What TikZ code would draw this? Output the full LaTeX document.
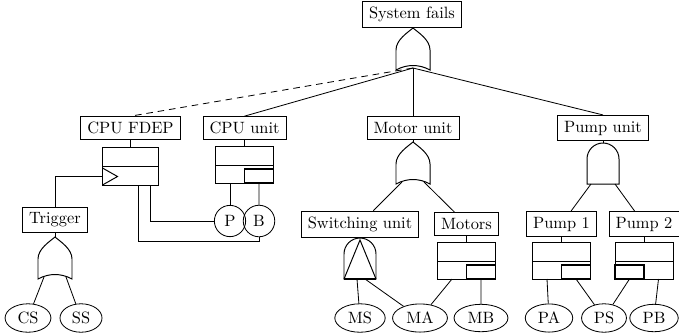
\documentclass[tikz,border=0pt]{standalone}
\usetikzlibrary{shapes.geometric}
\tikzset{
  conn/.style={line width=0.5pt},
  ev/.style={draw, line width=0.5pt, inner xsep=4pt, inner ysep=3.333pt},
  basic/.style={draw, ellipse, line width=0.5pt, inner xsep=3.5pt, inner ysep=2.5pt},
  rnd/.style={draw, circle, line width=0.5pt, inner sep=0.333em},
  gateline/.style={draw, line width=0.6pt, fill=white},
  orgate/.pic={
    \draw[gateline] (-17,42) -- (-17,22) .. controls (-17,12) and (-6,5) .. (0,0)
      .. controls (6,5) and (17,12) .. (17,22) -- (17,42)
      .. controls (6,36) and (-6,36) .. (-17,42) -- cycle;
    \coordinate (-top) at (0,0);
    \coordinate (-bot) at (0,40);
    \coordinate (-bl) at (-11,40);
    \coordinate (-br) at (11,40);
  },
  andgate/.pic={
    \draw[gateline] (-16,41) -- (-16,16) .. controls (-16,7.2) and (-8.8,0) .. (0,0)
      .. controls (8.8,0) and (16,7.2) .. (16,16) -- (16,41) -- cycle;
    \coordinate (-top) at (0,0);
    \coordinate (-bl) at (-12,41);
    \coordinate (-br) at (12,41);
  },
  pandgate/.pic={
    \draw[gateline] (-16,41) -- (-16,16) .. controls (-16,7.2) and (-8.8,0) .. (0,0)
      .. controls (8.8,0) and (16,7.2) .. (16,16) -- (16,41) -- cycle;
    \draw[line width=0.6pt] (-16,41) -- (0,2) -- (16,41);
    \draw[line width=1.1pt] (-16,41) -- (16,41);
    \coordinate (-top) at (0,0);
    \coordinate (-bl) at (-3,41);
    \coordinate (-br) at (5,41);
  },
  fdepgate/.pic={
    \draw[gateline] (-28,0) rectangle (28,38);
    \draw[line width=0.6pt] (-28,19) -- (28,19);
    \draw[line width=0.6pt] (-28,21) -- (-13,29.5) -- (-28,38);
    \coordinate (-top) at (0,0);
    \coordinate (-trig) at (-28,29.5);
    \coordinate (-o1) at (8,38);
    \coordinate (-o2) at (20,38);
  },
  sparer/.pic={
    \draw[gateline] (-29,0) rectangle (29,37);
    \draw[line width=0.6pt] (-29,19) -- (29,19);
    \draw[line width=0.75pt] (0,23) rectangle (29,37);
    \coordinate (-top) at (0,0);
    \coordinate (-bl) at (-14.5,37);
    \coordinate (-br) at (14.5,37);
  },
  sparel/.pic={
    \draw[gateline] (-29,0) rectangle (29,37);
    \draw[line width=0.6pt] (-29,19) -- (29,19);
    \draw[line width=0.75pt] (-29,23) rectangle (0,37);
    \coordinate (-top) at (0,0);
    \coordinate (-bl) at (-14.5,37);
    \coordinate (-br) at (14.5,37);
  },
}
\begin{document}
\begin{tikzpicture}[x=0.61pt,y=-0.61pt]
\useasboundingbox (0,0) rectangle (679,335);

% event boxes
\node[ev] (sys) at (412,14.5) {System fails};
\node[ev] (cpufdep) at (130.5,128) {CPU FDEP};
\node[ev] (cpuunit) at (244.5,128) {CPU unit};
\node[ev] (motorunit) at (413,128) {Motor unit};
\node[ev] (pumpunit) at (603,128) {Pump unit};
\node[ev] (trigger) at (55,220) {Trigger};
\node[ev] (swu) at (360,224) {Switching unit};
\node[ev] (motors) at (466.5,224) {Motors};
\node[ev] (pump1) at (561.5,224) {Pump 1};
\node[ev] (pump2) at (644,224) {Pump 2};

% gates
\pic (g0) at (413,28) {orgate};
\pic (tg) at (55,237) {orgate};
\pic (mg) at (413,142) {orgate};
\pic (pg) at (603,143) {andgate};
\pic (pa) at (360,238) {pandgate};
\pic (fd) at (130.5,147) {fdepgate};
\pic (cs0) at (244.5,146) {sparer};
\pic (ms0) at (466.5,242) {sparer};
\pic (ps1) at (561.5,242) {sparer};
\pic (ps2) at (644,242) {sparel};

% basic events
\node[rnd] (P) at (230,221) {P};
\node[rnd] (B) at (259,221) {B};
\node[basic] (cs) at (28,318) {CS};
\node[basic] (ss) at (81,318) {SS};
\node[basic] (ms) at (360,318) {MS};
\node[basic] (ma) at (420,318) {MA};
\node[basic] (mb) at (481,318) {MB};
\node[basic] (pa1) at (549,318) {PA};
\node[basic] (psn) at (604,318) {PS};
\node[basic] (pb) at (654,318) {PB};

% connectors
\draw[conn] (sys.south) -- (g0-top);
\draw[conn, dash pattern=on 4pt off 3pt] (g0-bot) -- (cpufdep.north);
\draw[conn] (g0-bot) -- (cpuunit.north);
\draw[conn] (g0-bot) -- (motorunit.north);
\draw[conn] (g0-bot) -- (pumpunit.north);

\draw[conn] (cpufdep.south) -- (fd-top);
\draw[conn] (fd-trig) -| (trigger.north);
\draw[conn] (trigger.south) -- (tg-top);
\draw[conn] (tg-bl) -- (cs);
\draw[conn] (tg-br) -- (ss);
\draw[conn] (fd-o2) |- (P.west);
\draw[conn] (fd-o1) -- ++(0,56) -| (B.south);

\draw[conn] (cpuunit.south) -- (cs0-top);
\draw[conn] (cs0-bl) -- (P);
\draw[conn] (cs0-br) -- (B);

\draw[conn] (motorunit.south) -- (mg-top);
\draw[conn] (mg-bl) -- (swu);
\draw[conn] (mg-br) -- (motors);
\draw[conn] (swu.south) -- (pa-top);
\draw[conn] (pa-bl) -- (ms);
\draw[conn] (pa-br) -- (ma);
\draw[conn] (motors.south) -- (ms0-top);
\draw[conn] (ms0-bl) -- (ma);
\draw[conn] (ms0-br) -- (mb);

\draw[conn] (pumpunit.south) -- (pg-top);
\draw[conn] (pg-bl) -- (pump1);
\draw[conn] (pg-br) -- (pump2);
\draw[conn] (pump1.south) -- (ps1-top);
\draw[conn] (pump2.south) -- (ps2-top);
\draw[conn] (ps1-bl) -- (pa1);
\draw[conn] (ps1-br) -- (psn);
\draw[conn] (ps2-bl) -- (psn);
\draw[conn] (ps2-br) -- (pb);
\end{tikzpicture}
\end{document}
